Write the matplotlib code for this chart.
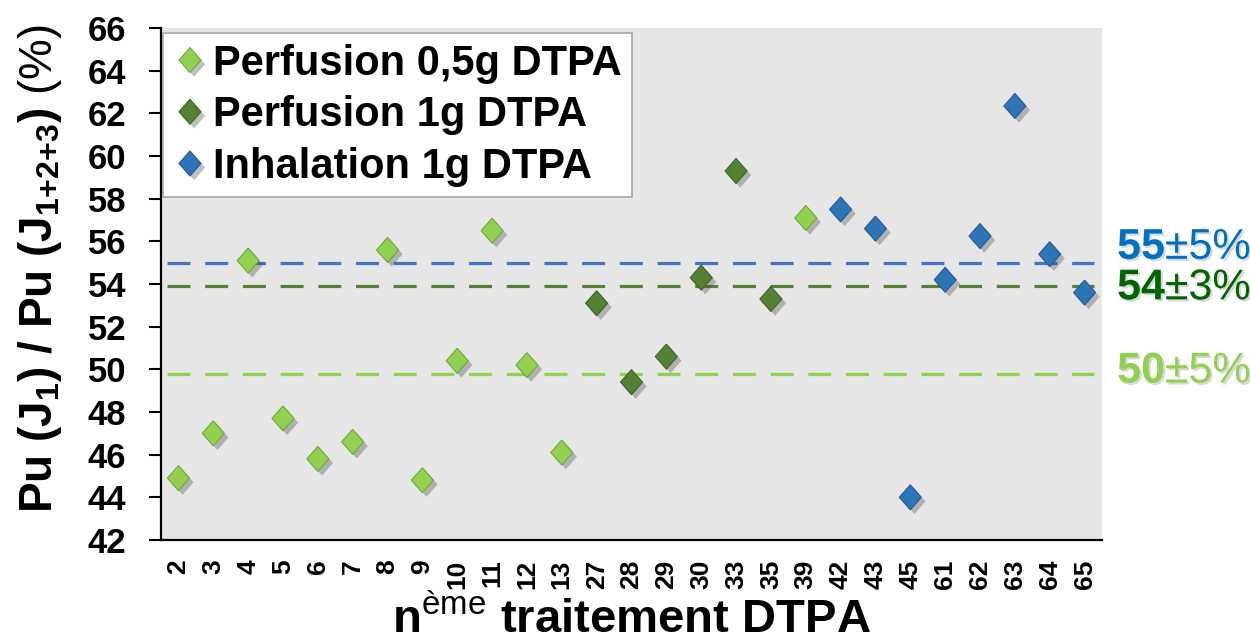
import numpy as np
import matplotlib
matplotlib.use("Agg")
import matplotlib.pyplot as plt
import matplotlib.patheffects as pe

plt.rcParams['font.family'] = ['Liberation Sans', 'DejaVu Sans']
plt.rcParams['mathtext.default'] = 'regular'
plt.rcParams['mathtext.fontset'] = 'custom'
plt.rcParams['mathtext.rm'] = 'Liberation Sans'

# n-ième traitement (catégories de l'axe x)
treatments = ['2', '3', '4', '5', '6', '7', '8', '9', '10', '11', '12', '13',
              '27', '28', '29', '30', '33', '35', '39', '42', '43', '45',
              '61', '62', '63', '64', '65']
# Pu(J1) / Pu(J1+2+3) en %
ratios = [44.9, 47.0, 55.1, 47.7, 45.8, 46.6, 55.6, 44.8, 50.4, 56.5, 50.2, 46.1,
          53.1, 49.4, 50.6, 54.3, 59.3, 53.3, 57.1, 57.5, 56.6, 44.0,
          54.2, 56.25, 62.35, 55.4, 53.6]
groups = ['p05'] * 12 + ['p1'] * 6 + ['p05'] + ['inh'] * 8

group_names = {'p05': 'Perfusion 0,5g DTPA',
               'p1': 'Perfusion 1g DTPA',
               'inh': 'Inhalation 1g DTPA'}
group_order = ['p05', 'p1', 'inh']

# moyennes +/- écart
means = {'inh': 55.0, 'p1': 53.9, 'p05': 49.8}
mean_text = {'inh': ('55', '±5%'), 'p1': ('54', '±3%'), 'p05': ('50', '±5%')}
text_y = {'inh': 55.7, 'p1': 53.8, 'p05': 49.9}

fill_col = {'p05': '#92D050', 'p1': '#548235', 'inh': '#2E75B6'}
edge_col = {'p05': '#6FA83A', 'p1': '#3D6226', 'inh': '#24589A'}
line_col = {'p05': '#92D050', 'p1': '#548235', 'inh': '#4472C4'}
label_col = {'p05': '#92D050', 'p1': '#006400', 'inh': '#0070C0'}

diamond = [(0, 1), (0.88, 0), (0, -1), (-0.88, 0), (0, 1)]
shadow = [pe.SimplePatchShadow(offset=(3, -3), shadow_rgbFace='0.3', alpha=0.35), pe.Normal()]

fig = plt.figure(figsize=(12.5, 6.4), dpi=100)
ax = fig.add_axes([0.1288, 0.1563, 0.7528, 0.7997])
ax.set_facecolor('#E6E6E6')

x = np.arange(len(treatments))
ratios = np.array(ratios)
groups = np.array(groups)

# lignes de moyenne
for g in ['inh', 'p1', 'p05']:
    ax.axhline(means[g], xmin=0.006, xmax=0.992, color=line_col[g], lw=2.3,
               dashes=(7.2, 4.6), zorder=2)

for g in group_order:
    m = groups == g
    ax.plot(x[m], ratios[m], linestyle='none', marker=diamond, markersize=18,
            markerfacecolor=fill_col[g], markeredgecolor=edge_col[g],
            markeredgewidth=0.8, label=group_names[g], zorder=3,
            path_effects=shadow)

# étiquettes à droite
txt_shadow = [pe.withSimplePatchShadow(offset=(1.5, -1.5), shadow_rgbFace='0.5', alpha=0.3)]
for g in ['inh', 'p1', 'p05']:
    t1 = ax.text(1.016, text_y[g], mean_text[g][0], transform=ax.get_yaxis_transform(),
                 color=label_col[g], fontsize=31, fontweight='bold', va='center',
                 ha='left', clip_on=False, path_effects=txt_shadow)
    ax.annotate(mean_text[g][1], xy=(1, 0), xycoords=t1, va='bottom', ha='left',
                color=label_col[g], fontsize=31, annotation_clip=False,
                path_effects=txt_shadow)

ax.set_xlim(-0.5, len(treatments) - 0.5)
ax.set_ylim(42, 66)
ax.set_yticks(np.arange(42, 67, 2))
ax.set_xticks(x)
ax.set_xticklabels(treatments, rotation=90)
ax.tick_params(axis='x', length=0, pad=14, labelsize=19)
ax.tick_params(axis='y', length=9, width=1.5, pad=16, labelsize=25)
for lab in ax.get_yticklabels() + ax.get_xticklabels():
    lab.set_fontweight('bold')

for s in ['top', 'right']:
    ax.spines[s].set_visible(False)
for s in ['left', 'bottom']:
    ax.spines[s].set_linewidth(1.6)
    ax.spines[s].set_color('black')

ax.set_xlabel(r'n$^{\mathrm{ème}}$ traitement DTPA', fontsize=34, fontweight='bold', labelpad=5)
ax.set_ylabel(r'Pu (J$_1$) / Pu (J$_{1{+}2{+}3}$) $\mathrm{(\%)}$', fontsize=33, fontweight='bold')
ax.yaxis.set_label_coords(-0.103, 0.53)

leg = ax.legend(loc='upper left', bbox_to_anchor=(0.002, 0.99), frameon=True,
                fancybox=False, edgecolor='#A6A6A6', framealpha=1,
                prop={'size': 30, 'weight': 'bold'}, handlelength=0.8,
                handletextpad=0.15, labelspacing=0.28, borderpad=0.25,
                borderaxespad=0)
leg.get_frame().set_linewidth(1.2)

fig.savefig('out.png', dpi=100)
